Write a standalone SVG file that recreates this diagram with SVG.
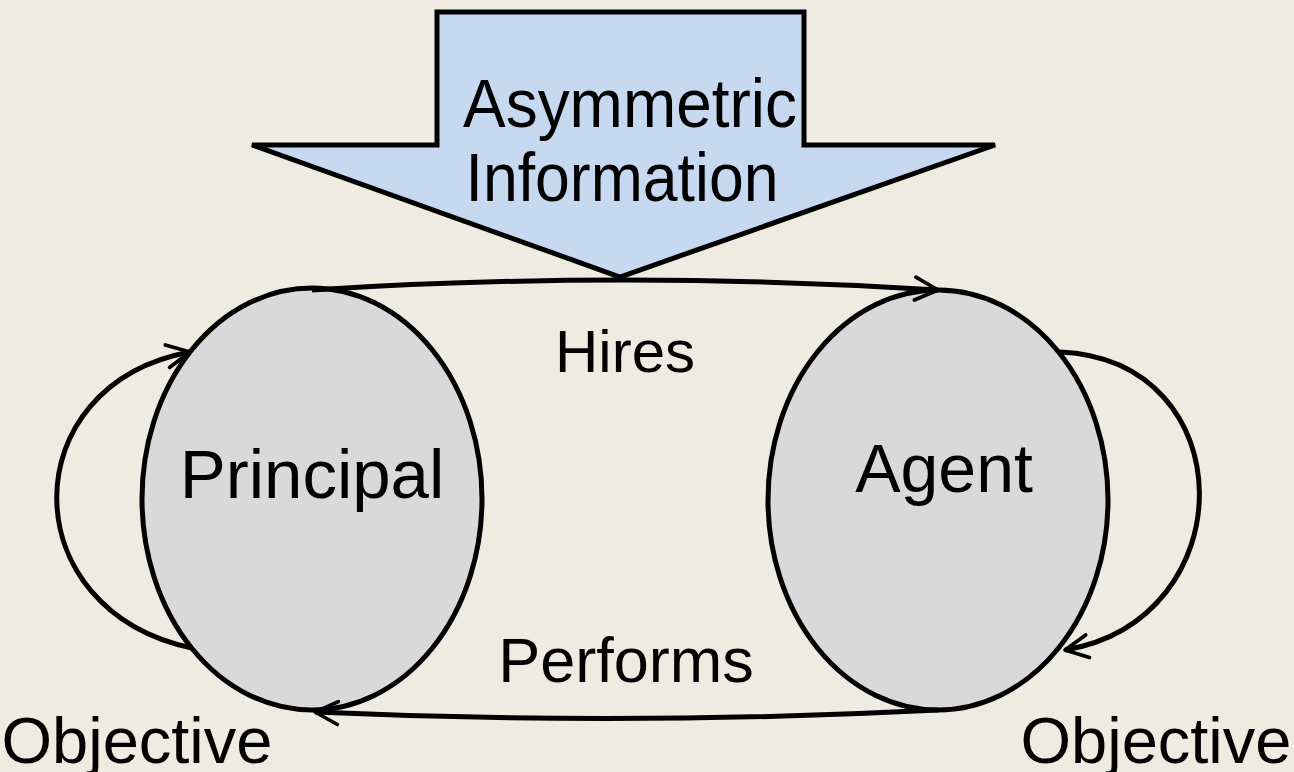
<svg xmlns="http://www.w3.org/2000/svg" width="1294" height="772" viewBox="0 0 1294 772">
<style>
.t{font-family:"Liberation Sans",Arial,sans-serif;fill:#000;text-anchor:middle}
.node{fill:#D9D9D9;stroke:#000;stroke-width:5}
.conn{fill:none;stroke:#000;stroke-width:5}
</style>
<defs>
<marker id="ah" viewBox="0 0 12 12" refX="11" refY="6" markerWidth="5.5" markerHeight="5.5" orient="auto" markerUnits="strokeWidth">
<path d="M1,1 L11,6 L1,11" fill="none" stroke="#000" stroke-width="1.6" stroke-linecap="round" stroke-linejoin="round"/>
</marker>
</defs>
<rect x="0" y="0" width="1294" height="772" fill="#EEEBE0"/>
<g id="asym">
<path d="M437,12 L804,12 L804,145 L995,145 L620,277 L252,145 L437,145 Z" fill="#C6D9F0" stroke="#000" stroke-width="5"/>
<text class="t" x="630" y="127" font-size="68" textLength="334" lengthAdjust="spacingAndGlyphs">Asymmetric</text>
<text class="t" x="622" y="201" font-size="68" textLength="313" lengthAdjust="spacingAndGlyphs">Information</text>
</g>
<g id="principal">
<ellipse class="node" cx="312" cy="499" rx="170" ry="211"/>
<text class="t" x="312" y="498" font-size="69">Principal</text>
</g>
<g id="agent">
<ellipse class="node" cx="938" cy="500" rx="170" ry="210"/>
<text class="t" x="944" y="492" font-size="68">Agent</text>
</g>
<g id="connectors">
<path class="conn" d="M312,290 Q625,270 938,290" marker-end="url(#ah)"/>
<path class="conn" d="M938,710 Q626,726 315,712" marker-end="url(#ah)"/>
<path class="conn" d="M192,648 C12,610 12,385 190,352" marker-end="url(#ah)"/>
<path class="conn" d="M1060,352 C1245,360 1245,620 1065,650" marker-end="url(#ah)"/>
</g>
<text class="t" x="625" y="372" font-size="60">Hires</text>
<text class="t" x="626" y="682" font-size="63">Performs</text>
<text class="t" x="137" y="763" font-size="65">Objective</text>
<text class="t" x="1156" y="763" font-size="65">Objective</text>
</svg>
